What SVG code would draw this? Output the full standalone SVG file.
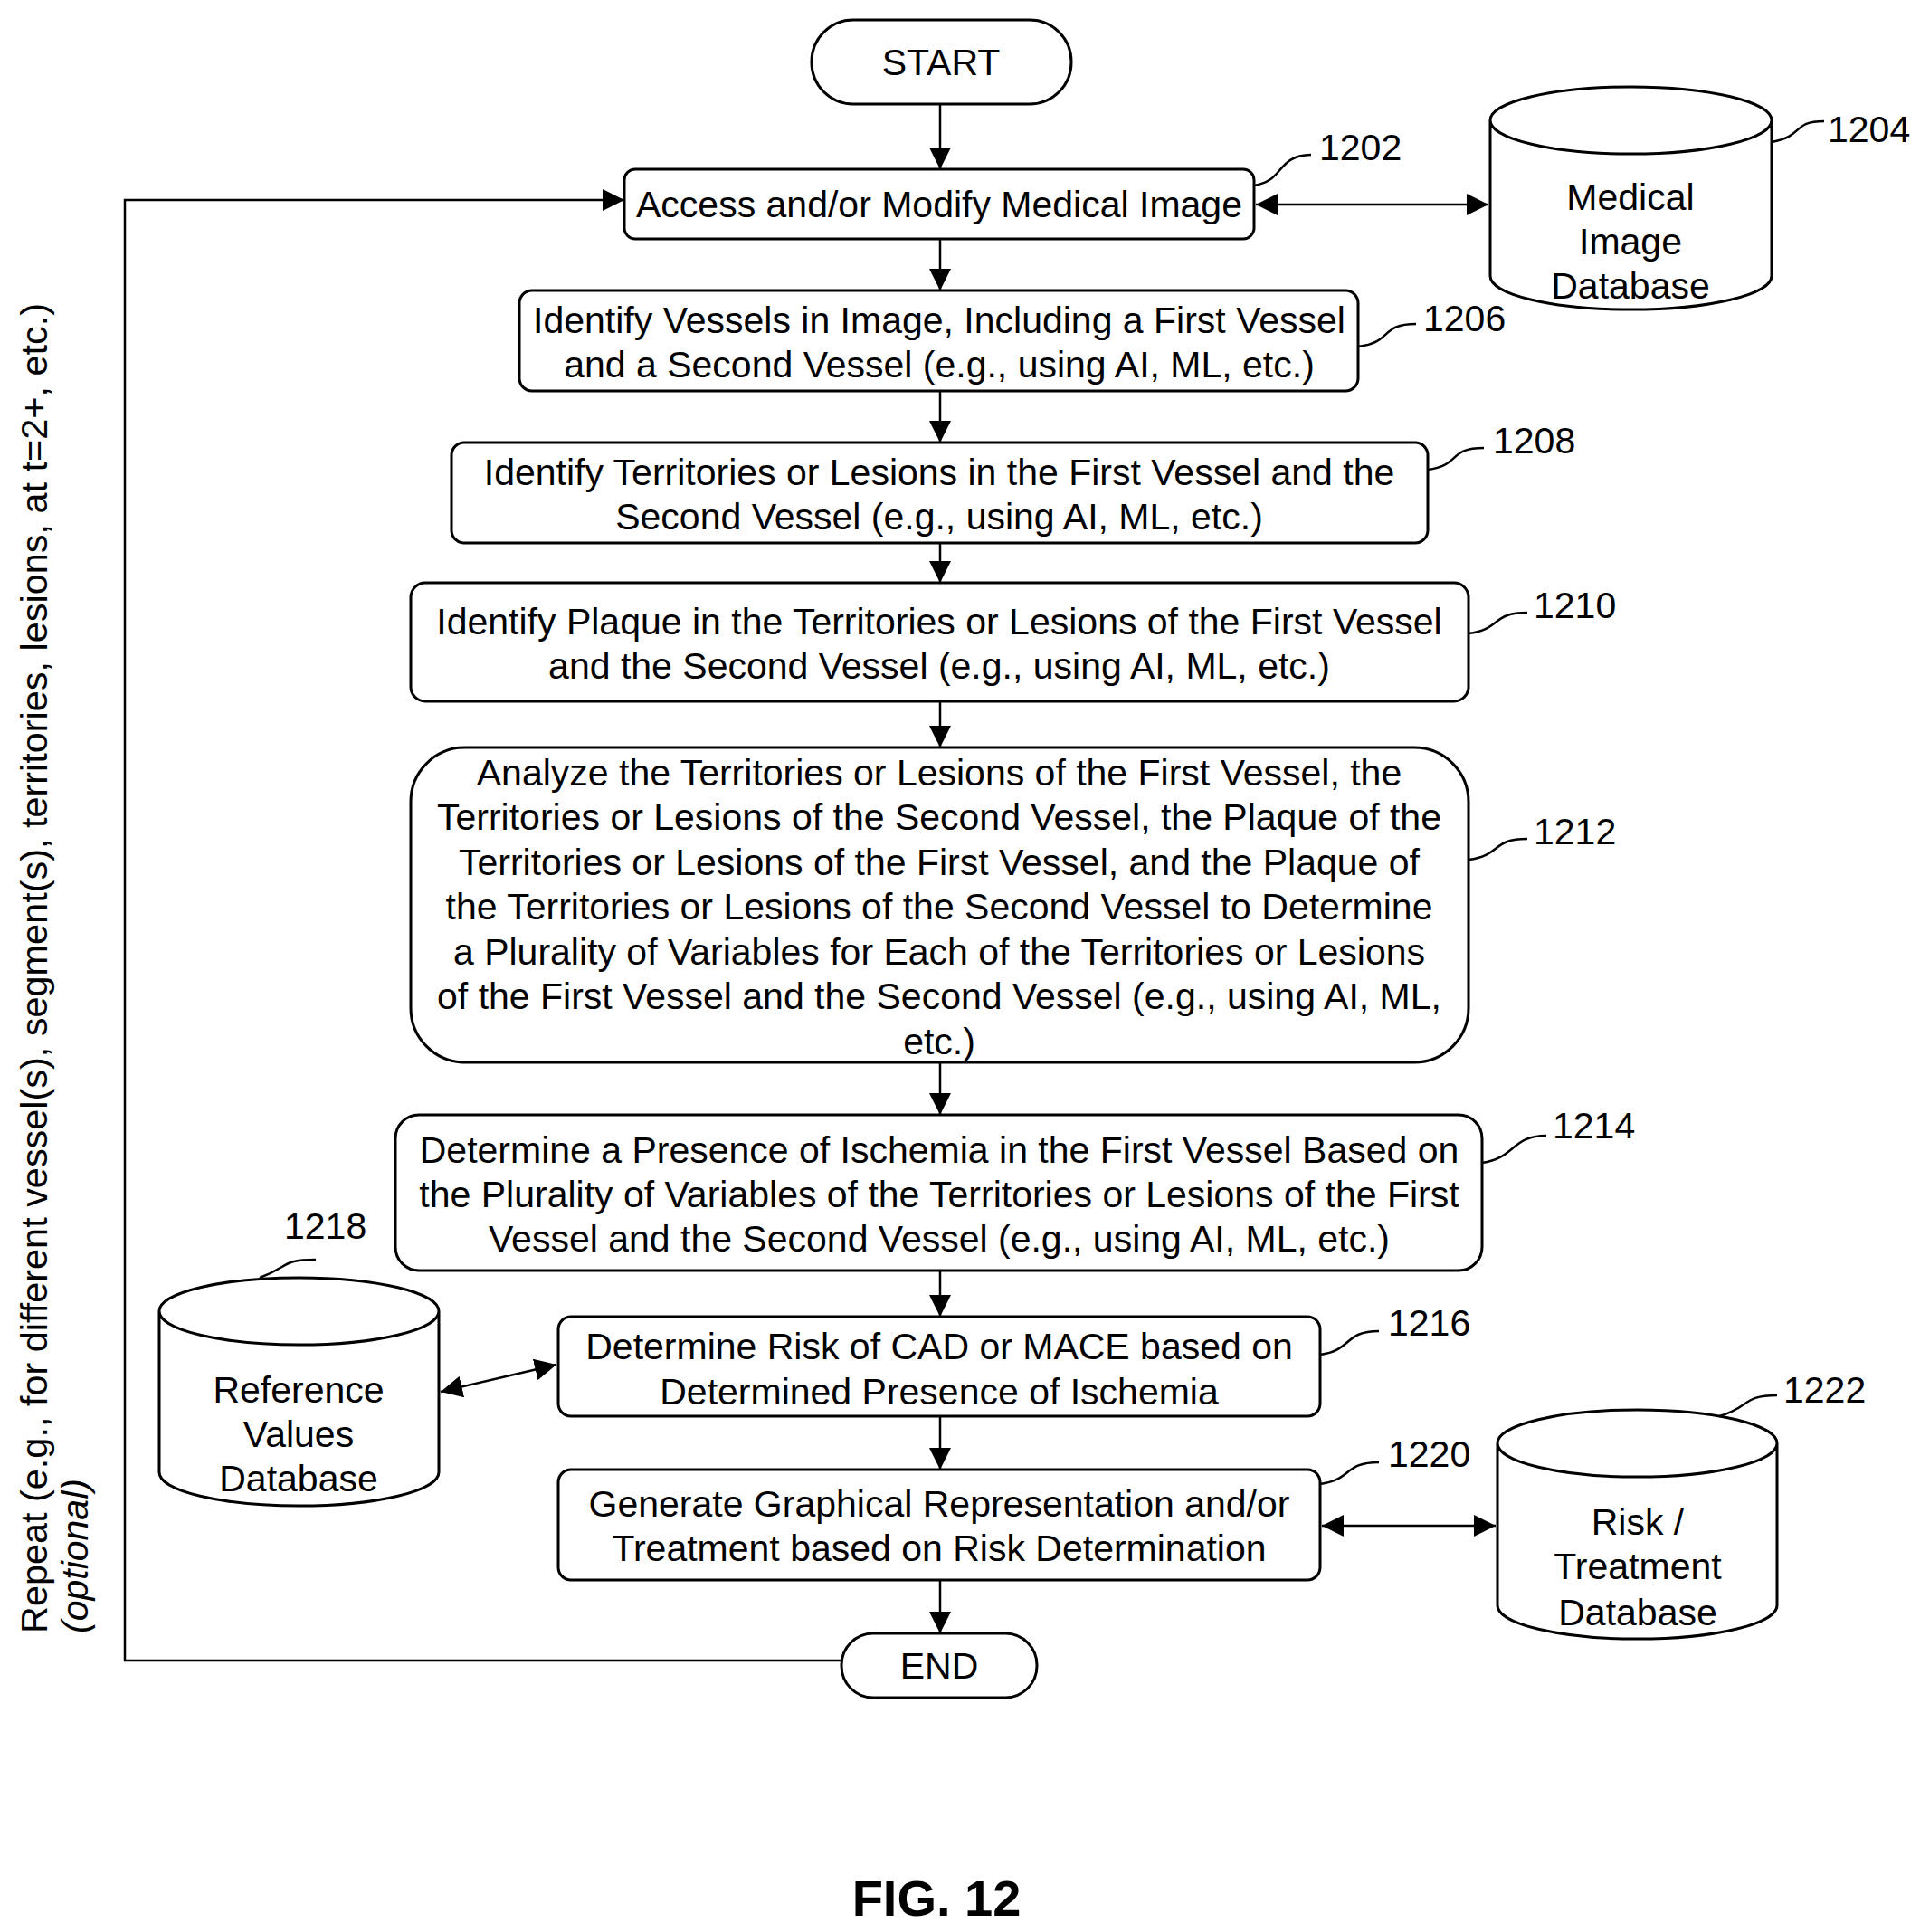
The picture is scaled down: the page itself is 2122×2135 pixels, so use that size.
<svg xmlns="http://www.w3.org/2000/svg" width="2122" height="2135" viewBox="0 0 2122 2135">
<style>
.b{fill:#fff;stroke:#000;stroke-width:3}
.t{font-family:"Liberation Sans",Arial,sans-serif;font-size:41px;text-anchor:middle;fill:#000}
.n{font-family:"Liberation Sans",Arial,sans-serif;font-size:41px;fill:#000}
.l{fill:none;stroke:#000;stroke-width:2.5}
.c{fill:none;stroke:#000;stroke-width:2.5}
</style>
<defs>
<marker id="A" viewBox="0 0 10 10" refX="10" refY="5" markerWidth="24" markerHeight="24" markerUnits="userSpaceOnUse" orient="auto-start-reverse"><path d="M0,0L10,5L0,10z" fill="#000"/></marker>
</defs>
<rect width="2122" height="2135" fill="#fff"/>
<g id="connectors">
<path class="c" d="M1039,115V187" marker-end="url(#A)"/>
<path class="c" d="M1039,264V321" marker-end="url(#A)"/>
<path class="c" d="M1039,432V489" marker-end="url(#A)"/>
<path class="c" d="M1039,600V644" marker-end="url(#A)"/>
<path class="c" d="M1039,775V826" marker-end="url(#A)"/>
<path class="c" d="M1039,1174V1232" marker-end="url(#A)"/>
<path class="c" d="M1039,1404V1455" marker-end="url(#A)"/>
<path class="c" d="M1039,1565V1624" marker-end="url(#A)"/>
<path class="c" d="M1039,1746V1805" marker-end="url(#A)"/>
<path class="c" d="M1388,226H1645" marker-start="url(#A)" marker-end="url(#A)"/>
<path class="c" d="M487,1538L615,1508" marker-start="url(#A)" marker-end="url(#A)"/>
<path class="c" d="M1461,1686H1653" marker-start="url(#A)" marker-end="url(#A)"/>
<path class="c" d="M930,1835H138V221H690" marker-end="url(#A)"/>
</g>
<g id="start"><rect class="b" x="897" y="22" width="287" height="93" rx="46"/><text class="t" x="1040" y="83">START</text></g>
<g id="n1202"><rect class="b" x="690" y="187" width="696" height="77" rx="12"/><text class="t" x="1038" y="240">Access and/or Modify Medical Image</text>
<path class="l" d="M1386,205C1420,200 1410,172 1449,171"/><text class="n" x="1458" y="177">1202</text></g>
<g id="n1204"><path class="b" d="M1647,133V305A155,37 0 0 0 1958,305V133A155,37 0 0 0 1647,133A155,37 0 0 0 1958,133"/>
<text class="t" x="1802" y="232">Medical</text><text class="t" x="1802" y="281">Image</text><text class="t" x="1802" y="330">Database</text>
<path class="l" d="M1958,157C1995,150 1980,134 2016,134"/><text class="n" x="2020" y="157">1204</text></g>
<g id="n1206"><rect class="b" x="574" y="321" width="927" height="111" rx="14"/><text class="t" x="1038" y="368">Identify Vessels in Image, Including a First Vessel</text><text class="t" x="1038" y="417">and a Second Vessel (e.g., using AI, ML, etc.)</text>
<path class="l" d="M1501,383C1540,378 1525,358 1565,358"/><text class="n" x="1573" y="366">1206</text></g>
<g id="n1208"><rect class="b" x="499" y="489" width="1079" height="111" rx="14"/><text class="t" x="1038" y="536">Identify Territories or Lesions in the First Vessel and the</text><text class="t" x="1038" y="585">Second Vessel (e.g., using AI, ML, etc.)</text>
<path class="l" d="M1578,519C1615,514 1600,495 1640,495"/><text class="n" x="1650" y="501">1208</text></g>
<g id="n1210"><rect class="b" x="454" y="644" width="1169" height="131" rx="16"/><text class="t" x="1038" y="701">Identify Plaque in the Territories or Lesions of the First Vessel</text><text class="t" x="1038" y="750">and the Second Vessel (e.g., using AI, ML, etc.)</text>
<path class="l" d="M1623,700C1660,695 1648,677 1688,677"/><text class="n" x="1695" y="683">1210</text></g>
<g id="n1212"><rect class="b" x="454" y="826" width="1169" height="348" rx="60"/>
<text class="t" x="1038" y="868">Analyze the Territories or Lesions of the First Vessel, the</text>
<text class="t" x="1038" y="917">Territories or Lesions of the Second Vessel, the Plaque of the</text>
<text class="t" x="1038" y="967">Territories or Lesions of the First Vessel, and the Plaque of</text>
<text class="t" x="1038" y="1016">the Territories or Lesions of the Second Vessel to Determine</text>
<text class="t" x="1038" y="1066">a Plurality of Variables for Each of the Territories or Lesions</text>
<text class="t" x="1038" y="1115">of the First Vessel and the Second Vessel (e.g., using AI, ML,</text>
<text class="t" x="1038" y="1165">etc.)</text>
<path class="l" d="M1623,950C1660,945 1648,927 1688,927"/><text class="n" x="1695" y="933">1212</text></g>
<g id="n1214"><rect class="b" x="437" y="1232" width="1201" height="172" rx="26"/>
<text class="t" x="1038" y="1285">Determine a Presence of Ischemia in the First Vessel Based on</text>
<text class="t" x="1038" y="1334">the Plurality of Variables of the Territories or Lesions of the First</text>
<text class="t" x="1038" y="1383">Vessel and the Second Vessel (e.g., using AI, ML, etc.)</text>
<path class="l" d="M1638,1285C1675,1280 1670,1255 1709,1255"/><text class="n" x="1716" y="1258">1214</text></g>
<g id="n1216"><rect class="b" x="617" y="1455" width="842" height="110" rx="14"/>
<text class="t" x="1038" y="1502">Determine Risk of CAD or MACE based on</text><text class="t" x="1038" y="1552">Determined Presence of Ischemia</text>
<path class="l" d="M1459,1497C1495,1492 1485,1471 1524,1471"/><text class="n" x="1534" y="1476">1216</text></g>
<g id="n1218"><path class="b" d="M176,1449V1627A154,37 0 0 0 485,1627V1449A154,37 0 0 0 176,1449A154,37 0 0 0 485,1449"/>
<text class="t" x="330" y="1550">Reference</text><text class="t" x="330" y="1599">Values</text><text class="t" x="330" y="1648">Database</text>
<path class="l" d="M287,1412C320,1400 310,1392 349,1392"/><text class="n" x="314" y="1369">1218</text></g>
<g id="n1220"><rect class="b" x="617" y="1624" width="842" height="122" rx="14"/>
<text class="t" x="1038" y="1676">Generate Graphical Representation and/or</text><text class="t" x="1038" y="1725">Treatment based on Risk Determination</text>
<path class="l" d="M1459,1640C1495,1635 1485,1616 1524,1616"/><text class="n" x="1534" y="1621">1220</text></g>
<g id="n1222"><path class="b" d="M1655,1595V1774A154,37 0 0 0 1964,1774V1595A154,37 0 0 0 1655,1595A154,37 0 0 0 1964,1595"/>
<text class="t" x="1810" y="1696">Risk /</text><text class="t" x="1810" y="1745">Treatment</text><text class="t" x="1810" y="1796">Database</text>
<path class="l" d="M1900,1565C1935,1555 1925,1542 1964,1542"/><text class="n" x="1971" y="1550">1222</text></g>
<g id="end"><rect class="b" x="930" y="1805" width="216" height="71" rx="35"/><text class="t" x="1038" y="1855">END</text></g>
<g id="repeat">
<text class="n" font-size="36" transform="translate(52,1805) rotate(-90)" textLength="1470" lengthAdjust="spacingAndGlyphs">Repeat (e.g., for different vessel(s), segment(s), territories, lesions, at t=2+, etc.)</text>
<text class="n" font-size="36" font-style="italic" transform="translate(97,1805) rotate(-90)">(optional)</text>
</g>
<text x="1035" y="2117" font-family="Liberation Sans,Arial,sans-serif" font-size="56" font-weight="bold" text-anchor="middle">FIG. 12</text>
</svg>
